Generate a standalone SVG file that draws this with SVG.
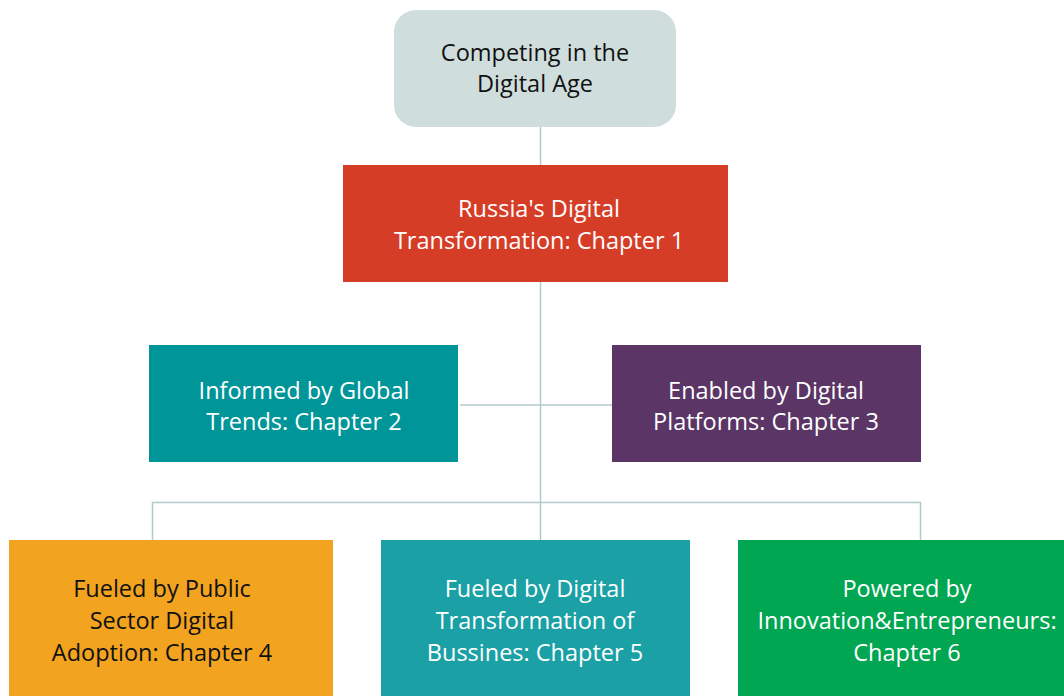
<svg xmlns="http://www.w3.org/2000/svg" width="1064" height="696" viewBox="0 0 1064 696">
<style>
.t{font-family:"Open Sans",Lato,sans-serif;font-size:23.5px;text-anchor:middle}
.w{fill:#ffffff}
.k{fill:#111111}
.c{stroke:#b4caca;stroke-width:1.5;fill:none}
</style>
<rect width="1064" height="696" fill="#ffffff"/>
<g id="connectors">
<path class="c" d="M540.5 127V541"/>
<path class="c" d="M460 405H614"/>
<path class="c" d="M152.5 543V502.5H920.5V547"/>
</g>
<g id="n0">
<rect x="394" y="10" width="282" height="117" rx="22" fill="#cfdedd"/>
<text class="t k" x="535" y="60.5">Competing in the</text>
<text class="t k" x="535" y="92">Digital Age</text>
</g>
<g id="n1">
<rect x="343" y="165" width="385" height="117" fill="#d63d27"/>
<text class="t w" x="539" y="216.5">Russia's Digital</text>
<text class="t w" x="539" y="248.5">Transformation: Chapter 1</text>
</g>
<g id="n2">
<rect x="149" y="345" width="309" height="117" fill="#009598"/>
<text class="t w" x="304" y="398.5">Informed by Global</text>
<text class="t w" x="304" y="430">Trends: Chapter 2</text>
</g>
<g id="n3">
<rect x="612" y="345" width="309" height="117" fill="#5a3566"/>
<text class="t w" x="766" y="398.5">Enabled by Digital</text>
<text class="t w" x="766" y="430">Platforms: Chapter 3</text>
</g>
<g id="n4">
<rect x="9" y="540" width="324" height="156" fill="#f2a31f"/>
<text class="t k" x="162" y="596.5">Fueled by Public</text>
<text class="t k" x="162" y="628.5">Sector Digital</text>
<text class="t k" x="162" y="660.5">Adoption: Chapter 4</text>
</g>
<g id="n5">
<rect x="381" y="540" width="309" height="156" fill="#1aa0a5"/>
<text class="t w" x="535" y="596.5">Fueled by Digital</text>
<text class="t w" x="535" y="628.5">Transformation of</text>
<text class="t w" x="535" y="660.5">Bussines: Chapter 5</text>
</g>
<g id="n6">
<rect x="738" y="540" width="326" height="156" fill="#00a651"/>
<text class="t w" x="907" y="596.5">Powered by</text>
<text class="t w" x="907" y="628.5">Innovation&amp;Entrepreneurs:</text>
<text class="t w" x="907" y="660.5">Chapter 6</text>
</g>
</svg>
